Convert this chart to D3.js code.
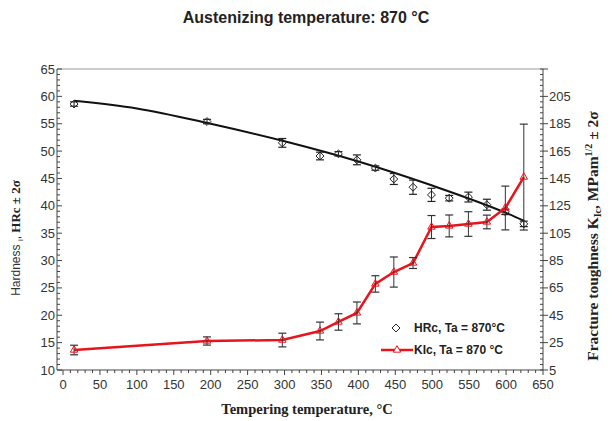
<!DOCTYPE html>
<html>
<head>
<meta charset="utf-8">
<script src="https://cdn.jsdelivr.net/npm/d3@7"></script>
<style>
  body { margin: 0; background: #fff; }
  svg { display: block; }
  .tick-label { font-family: Arial, "Liberation Sans", sans-serif; font-size: 13px; fill: #333; }
  .serif-b { font-family: "Times New Roman", "Liberation Serif", serif; font-weight: bold; fill: #222; }
</style>
</head>
<body>
<svg id="chart" width="612" height="421"></svg>
<script>
// tempering temperatures (°C)
const temps = [15, 195, 297, 348, 373, 398, 423, 448, 474, 499, 523, 549, 574, 599, 624];
// hardness HRc and 2σ
const hrc = [58.6, 55.4, 51.5, 49.1, 49.5, 48.4, 46.9, 44.9, 43.4, 42.0, 41.4, 41.6, 40.2, 38.9, 36.7];
const hrcErr = [0.4, 0.4, 0.8, 0.7, 0.4, 0.9, 0.4, 1.0, 1.3, 1.2, 0.5, 0.9, 1.0, 0.5, 0.5];
// fracture toughness KIc and 2σ
const kic = [19.6, 26.2, 26.9, 33.5, 40.1, 46.7, 67.9, 76.6, 83.2, 109.5, 110.3, 111.7, 113.2, 123.4, 146];
const kicErr = [3.5, 3, 5, 6.5, 6, 8, 6, 11, 4, 8.4, 8, 9, 5, 16, 38.7];
// hardness trend line
const trendT = [15, 100, 200, 300, 400, 500, 600, 624];
const trendV = [59.2, 57.8, 55.0, 51.8, 48.1, 43.7, 38.7, 37.3];

const xTicks = d3.range(0, 651, 50);
const leftTicks = d3.range(10, 66, 5);
const rightTicks = d3.range(5, 206, 20);

const svg = d3.select('#chart');
const L = 57, R = 543, T = 69, B = 370;

const x = d3.scaleLinear().domain([0, 650]).range([63, 543]);
const yL = d3.scaleLinear().domain([10, 65]).range([B, T]);
const yR = d3.scaleLinear().domain([5, 225]).range([B, T]);

const axisColor = '#444';

// title
svg.append('text')
  .attr('x', 306).attr('y', 23)
  .attr('text-anchor', 'middle')
  .style('font-family', 'Arial, "Liberation Sans", sans-serif')
  .style('font-weight', 'bold').style('font-size', '16px').style('fill', '#222')
  .text('Austenizing temperature: 870 °C');

// frame: top border
svg.append('line').attr('x1', L).attr('x2', R).attr('y1', T).attr('y2', T)
  .attr('stroke', '#999').attr('stroke-width', 1);

// left axis
const gL = svg.append('g');
gL.append('line').attr('x1', L).attr('x2', L).attr('y1', T).attr('y2', B)
  .attr('stroke', axisColor);
gL.selectAll('line.minor').data(d3.range(10, 65.5, 1)).join('line')
  .attr('class', 'minor')
  .attr('x1', L).attr('x2', d => L + (d % 5 === 0 ? 5 : 3))
  .attr('y1', d => yL(d)).attr('y2', d => yL(d))
  .attr('stroke', axisColor);
gL.selectAll('text').data(leftTicks).join('text')
  .attr('class', 'tick-label')
  .attr('x', L - 2).attr('y', d => yL(d)).attr('dy', '0.35em')
  .attr('text-anchor', 'end')
  .text(d => d);

// right axis
const gR = svg.append('g');
gR.append('line').attr('x1', R).attr('x2', R).attr('y1', T).attr('y2', B)
  .attr('stroke', axisColor);
gR.selectAll('line.minor').data(d3.range(5, 225.5, 4)).join('line')
  .attr('class', 'minor')
  .attr('x1', R - 3).attr('x2', d => R + ((d - 5) % 20 === 0 ? 5 : 0))
  .attr('y1', d => yR(d)).attr('y2', d => yR(d))
  .attr('stroke', axisColor);
gR.selectAll('text').data(rightTicks).join('text')
  .attr('class', 'tick-label')
  .attr('x', R + 6).attr('y', d => yR(d)).attr('dy', '0.35em')
  .text(d => d);

// bottom axis
const gB = svg.append('g');
gB.append('line').attr('x1', L).attr('x2', R).attr('y1', B).attr('y2', B)
  .attr('stroke', axisColor);
gB.selectAll('line.minor').data(d3.range(0, 651, 10)).join('line')
  .attr('class', 'minor')
  .attr('x1', d => x(d)).attr('x2', d => x(d))
  .attr('y1', B).attr('y2', d => B + (d % 50 === 0 ? 5 : 3))
  .attr('stroke', axisColor);
gB.selectAll('text').data(xTicks).join('text')
  .attr('class', 'tick-label')
  .attr('x', d => x(d)).attr('y', 389)
  .attr('text-anchor', 'middle')
  .text(d => d);

// axis titles
svg.append('text').attr('class', 'serif-b')
  .attr('x', 307).attr('y', 414).attr('text-anchor', 'middle')
  .style('font-size', '14.5px')
  .text('Tempering temperature, °C');

const lt = svg.append('text')
  .attr('transform', 'translate(20,238) rotate(-90)')
  .attr('text-anchor', 'middle')
  .style('font-size', '12px');
lt.append('tspan').style('font-family', 'Arial, "Liberation Sans", sans-serif').style('fill', '#333')
  .text('Hardness ');
lt.append('tspan').style('font-family', 'Arial, sans-serif').style('fill', '#333').style('font-size', '8px')
  .attr('dy', 3).text('i');
lt.append('tspan').attr('dy', -3).style('font-family', 'Arial, sans-serif').style('fill', '#333').text(', ');
lt.append('tspan').attr('class', 'serif-b').style('font-size', '13px').text('HRc ± 2σ');

const rt = svg.append('text').attr('class', 'serif-b')
  .attr('transform', 'translate(598,236) rotate(-90)')
  .attr('text-anchor', 'middle')
  .style('font-size', '15.5px');
rt.append('tspan').text('Fracture toughness K');
rt.append('tspan').attr('dy', 3).style('font-size', '10px').text('Ic');
rt.append('tspan').attr('dy', -3).text(', MPam');
rt.append('tspan').attr('dy', -6).style('font-size', '10px').text('1/2');
rt.append('tspan').attr('dy', 6).text(' ± 2σ');

// data joins
const hData = temps.map((t, i) => ({ t, v: hrc[i], e: hrcErr[i] }));
const kData = temps.map((t, i) => ({ t, v: kic[i], e: kicErr[i] }));

function errorBars(g, data, y, color) {
  const eb = g.selectAll('g').data(data).join('g');
  eb.append('line')
    .attr('x1', d => x(d.t)).attr('x2', d => x(d.t))
    .attr('y1', d => y(d.v - d.e)).attr('y2', d => y(d.v + d.e))
    .attr('stroke', color).attr('stroke-width', 1);
  [-1, 1].forEach(s => {
    eb.append('line')
      .attr('x1', d => x(d.t) - 4).attr('x2', d => x(d.t) + 4)
      .attr('y1', d => y(d.v + s * d.e)).attr('y2', d => y(d.v + s * d.e))
      .attr('stroke', color).attr('stroke-width', 1.2);
  });
}

// hardness trend line
svg.append('path')
  .datum(trendT.map((t, i) => [t, trendV[i]]))
  .attr('d', d3.line().x(d => x(d[0])).y(d => yL(d[1])).curve(d3.curveMonotoneX))
  .attr('fill', 'none').attr('stroke', '#111').attr('stroke-width', 2);

errorBars(svg.append('g'), hData, yL, '#222');
svg.append('g').selectAll('path').data(hData).join('path')
  .attr('d', d3.symbol(d3.symbolDiamond2, 40))
  .attr('transform', d => `translate(${x(d.t)},${yL(d.v)})`)
  .attr('fill', 'none').attr('stroke', '#222').attr('stroke-width', 1);

// KIc
svg.append('path')
  .datum(kData)
  .attr('d', d3.line().x(d => x(d.t)).y(d => yR(d.v)))
  .attr('fill', 'none').attr('stroke', '#e8141c').attr('stroke-width', 2.5);
errorBars(svg.append('g'), kData, yR, '#333');
svg.append('g').selectAll('path').data(kData).join('path')
  .attr('d', d3.symbol(d3.symbolTriangle2, 40))
  .attr('transform', d => `translate(${x(d.t)},${yR(d.v)})`)
  .attr('fill', 'none').attr('stroke', '#e8141c').attr('stroke-width', 1);

// legend
const lg = svg.append('g').style('font-family', 'Arial, "Liberation Sans", sans-serif')
  .style('font-weight', 'bold').style('font-size', '12px').style('fill', '#222');
lg.append('path').attr('d', d3.symbol(d3.symbolDiamond2, 40))
  .attr('transform', 'translate(396,328)')
  .attr('fill', 'none').attr('stroke', '#222');
lg.append('text').attr('x', 414).attr('y', 332).text('HRc, Ta = 870°C');
lg.append('line').attr('x1', 381).attr('x2', 413).attr('y1', 350).attr('y2', 350)
  .attr('stroke', '#e8141c').attr('stroke-width', 2.5);
lg.append('path').attr('d', d3.symbol(d3.symbolTriangle2, 40))
  .attr('transform', 'translate(397,350)')
  .attr('fill', '#fff').attr('stroke', '#e8141c');
lg.append('text').attr('x', 414).attr('y', 354).text('KIc, Ta = 870 °C');
</script>
</body>
</html>
